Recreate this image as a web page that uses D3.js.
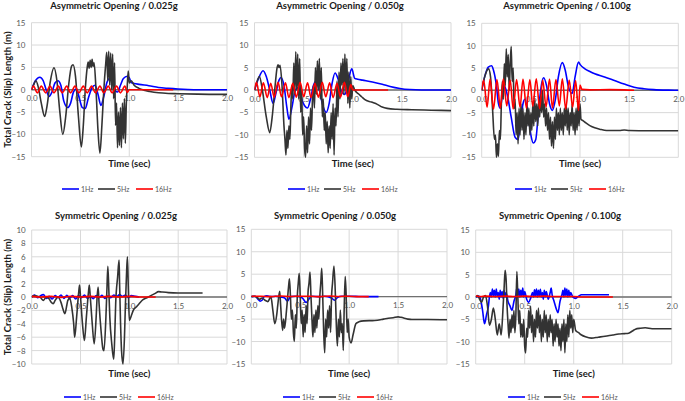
<!DOCTYPE html>
<html>
<head>
<meta charset="utf-8">
<script src="https://cdn.jsdelivr.net/npm/d3@7"></script>
<style>
  body { margin: 0; background: #fff; }
  svg { display: block; font-family: Lato, "Open Sans", sans-serif; }
</style>
</head>
<body>
<div id="chart"></div>
<script>
// series names / colours
var seriesNames = ["1Hz", "5Hz", "16Hz"];
var seriesColors = ["#0000ff", "#333333", "#ff0000"];
var xTicks = [0, 0.5, 1.0, 1.5, 2.0];

// ---- Asymmetric Opening / 0.025g ----
var asym025_1Hz = [[0,0],[0.04,2],[0.085,2.8],[0.12,2],[0.15,0],[0.18,-1.5],[0.21,-0.5],[0.24,1.5],[0.27,2.0],[0.3,1],[0.33,-2.5],[0.37,-4.0],[0.4,-3],[0.43,-0.5],[0.46,0.2],[0.49,-2],[0.52,-4],[0.55,-4.2],[0.58,-2],[0.62,0.5],[0.65,1.0],[0.68,-1],[0.71,-3.5],[0.74,-1.5],[0.77,1.5],[0.8,2.5],[0.83,1.8],[0.86,-0.3],[0.88,-0.5],[0.91,1],[0.94,2.5],[0.98,3.0],[1.0,2.7],[1.02,1.6],[1.05,1.4],[1.1,1.2],[1.2,0.9],[1.3,0.5],[1.4,0.3],[1.5,0.15],[1.6,0.05],[1.7,0],[2.0,0]];
var asym025_5Hz = [[0,0],[0.02,1],[0.045,2],[0.07,0.5],[0.1,-3],[0.135,-6],[0.16,-3.5],[0.19,1.5],[0.23,4.9],[0.26,2],[0.29,-5],[0.32,-10],[0.35,-6],[0.38,1],[0.41,5.3],[0.425,5.6],[0.45,3],[0.48,-6],[0.51,-12.8],[0.53,-8],[0.55,0],[0.57,5],[0.58,6.2],[0.59,4.8],[0.6,6.6],[0.61,5],[0.62,6.8],[0.63,5.2],[0.64,6],[0.66,0],[0.68,-9],[0.7,-14.2],[0.72,-8],[0.74,0],[0.76,6],[0.77,8.4],[0.78,2],[0.79,8.6],[0.8,1],[0.81,8.2],[0.82,0],[0.83,8],[0.84,-2],[0.85,6],[0.86,-8],[0.87,-3],[0.88,-13],[0.89,-5],[0.9,-12.5],[0.91,-4],[0.92,-13],[0.93,-3],[0.94,-11],[0.95,-2],[0.96,-12],[0.97,-3],[0.98,1],[0.99,4.2],[1.0,1.5],[1.02,2],[1.05,1.0],[1.1,0.3],[1.15,-0.1],[1.21,-0.4],[1.3,-0.7],[1.4,-0.85],[1.5,-0.9],[1.7,-1.0],[1.9,-1.05],[2.0,-1.05]];
var asym025_16Hz = [[0,0],[0.02,0.8],[0.06,-0.7],[0.1,0.8],[0.145,-0.7],[0.19,0.8],[0.23,-0.7],[0.275,0.8],[0.315,-0.7],[0.36,0.8],[0.4,-0.7],[0.445,0.8],[0.485,-0.7],[0.53,0.8],[0.57,-0.7],[0.615,0.8],[0.655,-0.7],[0.7,0.8],[0.74,-0.7],[0.785,0.8],[0.825,-0.7],[0.87,0.8],[0.91,-0.7],[0.955,0.8],[0.98,-0.6],[1.0,0],[1.45,0]];

// ---- Asymmetric Opening / 0.050g ----
var asym050_1Hz = [[0,0],[0.04,2.5],[0.087,4.3],[0.12,3],[0.155,0],[0.19,-3],[0.22,-0.5],[0.25,2.2],[0.27,2.8],[0.3,1],[0.33,-4],[0.35,-6.5],[0.38,-4],[0.41,-0.5],[0.44,0.5],[0.47,-1.5],[0.51,-3.5],[0.54,-4],[0.57,-2],[0.6,1],[0.63,2],[0.66,0],[0.69,-3],[0.73,-5],[0.76,-3],[0.79,1.5],[0.82,3.8],[0.85,2.5],[0.88,0],[0.92,-1],[0.95,1.5],[0.99,4.7],[1.02,2.6],[1.05,2.4],[1.1,2.2],[1.2,1.8],[1.3,1.3],[1.38,0.8],[1.48,0.35],[1.58,0.1],[1.7,0],[2.0,0]];
var asym050_5Hz = [[0,0],[0.02,1.5],[0.05,3],[0.08,0],[0.12,-6],[0.155,-9.5],[0.18,-6],[0.21,1],[0.23,5],[0.24,5.6],[0.25,5],[0.26,5.5],[0.28,1],[0.3,-8],[0.31,-11],[0.32,-14.5],[0.33,-9],[0.34,-13],[0.35,-8],[0.36,-11],[0.37,-4],[0.38,1],[0.39,-2],[0.4,6],[0.41,-1],[0.42,8.5],[0.43,0],[0.44,8],[0.45,-2],[0.46,7],[0.47,-5],[0.48,0],[0.49,-10],[0.5,-6],[0.51,-13],[0.52,-15],[0.53,-8],[0.54,-14],[0.55,-6],[0.56,-12],[0.57,-4],[0.58,-9],[0.59,-2],[0.6,1],[0.61,-4],[0.62,5],[0.63,-1],[0.64,6.5],[0.65,0],[0.66,7],[0.67,-2],[0.68,5],[0.69,-6],[0.7,-2],[0.71,-9],[0.72,-5],[0.73,-12],[0.74,-7],[0.75,-14],[0.76,-8],[0.77,-13],[0.78,-5],[0.79,-11],[0.8,-3],[0.81,-14.5],[0.82,-4],[0.83,-8],[0.84,2],[0.85,-6],[0.86,4],[0.87,-2],[0.88,6],[0.89,1],[0.9,7],[0.91,-1],[0.92,8],[0.93,0],[0.94,7],[0.95,-3],[0.96,4],[0.97,-4],[0.98,3],[0.99,-2],[1.0,1],[1.02,0],[1.06,-0.9],[1.09,-1.5],[1.12,-2.1],[1.19,-2.7],[1.25,-3.2],[1.3,-3.8],[1.35,-4.1],[1.45,-4.3],[1.6,-4.4],[1.8,-4.5],[2.0,-4.6]];
var asym050_16Hz = [[0,0],[0.02,1.7],[0.055,-1.5],[0.09,1.6],[0.13,-1.7],[0.165,1.5],[0.2,-1.6],[0.24,1.7],[0.275,-1.5],[0.315,1.6],[0.35,-1.7],[0.39,1.5],[0.425,-1.6],[0.465,1.7],[0.5,-1.5],[0.54,1.6],[0.575,-1.7],[0.615,1.5],[0.65,-1.6],[0.69,1.7],[0.725,-1.5],[0.765,1.6],[0.8,-1.7],[0.84,1.5],[0.875,-1.6],[0.915,1.7],[0.95,-1.5],[0.98,1.2],[1.0,0],[1.36,0]];

// ---- Asymmetric Opening / 0.100g ----
var asym100_1Hz = [[0,0],[0.03,3],[0.067,5.2],[0.1,5.5],[0.12,4.5],[0.15,1],[0.17,-2.9],[0.19,-4],[0.21,-1],[0.23,1],[0.26,-1],[0.3,-6],[0.34,-10.5],[0.37,-11],[0.39,-8],[0.42,-3],[0.44,-2],[0.47,-5],[0.5,-10],[0.525,-11.8],[0.55,-11],[0.58,-4],[0.61,1.5],[0.63,2.8],[0.66,1],[0.69,-3],[0.72,-4.5],[0.75,-2],[0.78,3],[0.82,6.2],[0.85,4.5],[0.88,1],[0.92,-0.7],[0.95,3],[0.985,6.3],[1.0,5.8],[1.05,4.8],[1.1,4.2],[1.15,3.7],[1.25,3.0],[1.35,2.2],[1.45,1.4],[1.55,0.7],[1.65,0.35],[1.75,0.15],[1.9,0.03],[2.0,0]];
var asym100_5Hz = [[0,0],[0.03,3],[0.07,4.8],[0.09,3],[0.11,-4],[0.13,-11],[0.14,-10],[0.15,-15],[0.16,-12],[0.17,-14.8],[0.18,-9],[0.19,-11],[0.2,-3],[0.21,2],[0.22,-2],[0.23,6],[0.24,1],[0.25,9.3],[0.26,3],[0.27,8],[0.28,0],[0.29,6],[0.3,9.8],[0.31,2],[0.32,5],[0.33,-4],[0.34,-2],[0.35,-10],[0.36,-5],[0.37,-12],[0.38,-4],[0.39,-10],[0.4,-3],[0.41,-9],[0.42,-4],[0.43,-11],[0.44,-5],[0.45,-10],[0.46,-3],[0.47,-8],[0.48,-4],[0.49,-10],[0.5,-5],[0.51,-9],[0.52,-3],[0.53,-8],[0.54,-2],[0.55,-7],[0.56,-3],[0.57,-8],[0.58,-2],[0.59,-6],[0.6,-1],[0.61,-5],[0.62,0],[0.63,-6],[0.64,-3],[0.65,-8],[0.66,-4],[0.67,-9],[0.68,-5],[0.69,-11],[0.7,-6],[0.71,-12.5],[0.72,-7],[0.73,-13],[0.74,-6],[0.75,-11],[0.76,-4],[0.77,-9],[0.78,-5],[0.79,-10],[0.8,-4],[0.81,-9],[0.82,-5],[0.83,-10],[0.84,-4],[0.85,-8],[0.86,-3],[0.87,-9],[0.88,-4],[0.89,-10],[0.9,-5],[0.91,-8],[0.92,-3],[0.93,-9],[0.94,-5],[0.95,-10],[0.96,-4],[0.97,-9],[0.98,-3],[0.99,-8],[1.0,-3],[1.01,-6.5],[1.03,-6.8],[1.06,-7.3],[1.1,-7.9],[1.15,-8.4],[1.2,-8.7],[1.27,-9.0],[1.4,-9.0],[1.45,-8.9],[1.5,-9.0],[1.7,-9.05],[2.0,-9.05]];
var asym100_16Hz = [[0,0],[0.02,2.3],[0.055,-3.8],[0.085,2.5],[0.12,-4.2],[0.155,2.4],[0.19,-4],[0.22,2.6],[0.255,-3.5],[0.29,2.3],[0.32,-4.2],[0.355,2.4],[0.39,-3.8],[0.42,2.5],[0.455,-4],[0.49,2.4],[0.52,-3.6],[0.555,2.6],[0.59,-4.1],[0.62,2.3],[0.655,-3.7],[0.69,2.5],[0.72,-4],[0.755,2.4],[0.79,-3.5],[0.82,2.6],[0.855,-4.2],[0.89,2.3],[0.925,-3.8],[0.955,2.2],[0.985,-4.5],[1.0,1.2],[1.02,0.2],[1.1,0.1],[1.3,0.15],[1.45,0.1],[1.55,0]];

// ---- Symmetric Opening / 0.025g ----
var sym025_1Hz = [[0,0],[0.03,0.3],[0.06,-0.1],[0.09,0.2],[0.12,0.35],[0.15,-0.2],[0.18,0.1],[0.21,-0.3],[0.24,0.2],[0.27,-0.1],[0.3,0.3],[0.33,-0.2],[0.36,0.25],[0.39,-0.15],[0.42,0.2],[0.45,-0.3],[0.48,0.2],[0.51,-0.1],[0.54,0.3],[0.57,-0.2],[0.6,0.1],[0.63,-0.25],[0.66,0.2],[0.69,-0.1],[0.72,0.25],[0.75,-0.2],[0.78,0.15],[0.81,-0.1],[0.84,0.3],[0.87,0.1],[0.9,0.35],[0.93,0.1],[0.96,0.3],[0.99,-0.1],[1.02,0.2],[1.06,0.1],[1.1,0]];
var sym025_5Hz = [[0,0],[0.03,0.2],[0.06,0.1],[0.09,-0.1],[0.12,-0.5],[0.15,0],[0.18,-0.3],[0.2,-0.8],[0.22,-1],[0.24,-0.5],[0.27,0],[0.3,-0.8],[0.32,-1.8],[0.34,-2.5],[0.36,-1.2],[0.37,-0.5],[0.39,-0.2],[0.41,-1.5],[0.43,-4],[0.44,-6],[0.46,-3],[0.48,0.5],[0.49,1.8],[0.5,0],[0.52,-4],[0.54,-6.5],[0.56,-3],[0.58,0.5],[0.59,1.8],[0.6,0],[0.62,-4],[0.64,-7],[0.66,-3],[0.67,0],[0.68,1.5],[0.69,-1],[0.71,-5],[0.73,-7.8],[0.74,-8],[0.76,-3],[0.77,1],[0.78,4.6],[0.79,1],[0.8,-3],[0.82,-7],[0.84,-9.3],[0.85,-6],[0.86,-1],[0.88,3],[0.895,5.5],[0.9,2],[0.91,-4],[0.92,-8],[0.935,-10],[0.95,-6],[0.96,-1],[0.97,3],[0.98,6],[0.99,1],[1.0,-3.5],[1.02,-2.8],[1.04,-2],[1.07,-1.5],[1.1,-1],[1.14,-0.4],[1.18,-0.1],[1.22,0.2],[1.26,0.5],[1.3,0.8],[1.33,0.75],[1.4,0.65],[1.5,0.6],[1.6,0.6],[1.75,0.6]];
var sym025_16Hz = [[0,0.1],[0.1,0],[0.2,0.1],[0.3,-0.05],[0.4,0.1],[0.5,0],[0.6,0.1],[0.7,0],[0.8,0.1],[0.9,0],[1.0,0.1],[1.1,0],[1.27,0]];

// ---- Symmetric Opening / 0.050g ----
var sym050_1Hz = [[0,0],[0.04,0.1],[0.07,-0.6],[0.09,-1.0],[0.11,-0.8],[0.13,0],[0.16,0.2],[0.2,0],[0.25,0.1],[0.3,-0.1],[0.34,-0.3],[0.37,-1.0],[0.4,0],[0.45,0.1],[0.5,0],[0.53,-0.5],[0.56,-1.3],[0.59,-0.5],[0.62,0.1],[0.7,0],[0.75,0.1],[0.82,-0.3],[0.85,-0.8],[0.88,-0.2],[0.92,0.1],[1.0,0.1],[1.1,0.05],[1.2,0],[1.3,0]];
var sym050_5Hz = [[0,0],[0.03,0.1],[0.06,-0.2],[0.085,-0.6],[0.11,-0.3],[0.14,-0.8],[0.17,-1.1],[0.19,-0.3],[0.2,0],[0.22,-3],[0.24,-6],[0.26,-4],[0.27,-2],[0.29,1.2],[0.3,-2],[0.32,-7.5],[0.33,-5],[0.34,-7],[0.36,-3],[0.38,2],[0.39,4],[0.4,0],[0.41,-5],[0.42,-3],[0.43,-8],[0.44,-10],[0.45,-4],[0.46,-7],[0.47,0],[0.48,3],[0.49,5.2],[0.5,0],[0.51,-6],[0.52,-3],[0.53,-9],[0.54,-4],[0.55,-8],[0.56,-2],[0.57,-6],[0.58,1],[0.59,3],[0.6,5.5],[0.61,0],[0.62,-5],[0.63,-9],[0.64,-4],[0.65,-8],[0.66,-3],[0.67,-7],[0.68,-2],[0.69,-5],[0.7,0],[0.71,3],[0.72,6.3],[0.73,0],[0.74,-8],[0.75,-12.5],[0.76,-5],[0.77,-9],[0.78,-3],[0.79,-7],[0.8,-2],[0.81,-8],[0.82,0],[0.83,3],[0.845,6.8],[0.86,0],[0.87,-7],[0.88,-11],[0.89,-5],[0.9,-9],[0.91,-3],[0.92,-8],[0.93,-6],[0.94,-12],[0.95,-2],[0.96,4.5],[0.97,0],[0.98,-8],[0.99,-5],[1.0,-9],[1.02,-10.3],[1.04,-8.5],[1.07,-6],[1.1,-5.6],[1.15,-5.4],[1.26,-5.3],[1.35,-5.0],[1.4,-4.8],[1.45,-4.7],[1.5,-4.5],[1.53,-4.6],[1.6,-5.0],[1.64,-5.1],[1.8,-5.1],[2.0,-5.15]];
var sym050_16Hz = [[0,0.1],[0.1,0.1],[0.2,0],[0.3,0.15],[0.4,0.05],[0.5,0.1],[0.6,0.1],[0.7,0],[0.8,0.15],[0.9,0.05],[1.0,0.1],[1.1,0],[1.2,0]];

// ---- Symmetric Opening / 0.100g ----
var sym100_1Hz = [[0,0],[0.03,0.2],[0.05,-0.5],[0.07,-3],[0.09,-6],[0.11,-4],[0.13,-2],[0.14,0],[0.15,1],[0.16,0],[0.17,1.8],[0.18,0.3],[0.19,1.5],[0.2,0],[0.21,1.8],[0.22,0.2],[0.23,1],[0.24,-0.5],[0.25,1.5],[0.26,0],[0.27,1.2],[0.28,-0.3],[0.29,1.5],[0.3,0],[0.31,1],[0.33,-1],[0.35,-2],[0.37,-3],[0.39,-1],[0.41,0.5],[0.42,2],[0.43,0.3],[0.44,1.8],[0.45,0],[0.46,1.5],[0.47,0.2],[0.48,2],[0.49,0],[0.5,1.2],[0.52,-0.5],[0.54,-1.2],[0.56,-0.3],[0.58,1],[0.59,0],[0.6,1.6],[0.61,0.2],[0.62,1.8],[0.63,0],[0.64,1.5],[0.65,0.2],[0.66,1.7],[0.67,0],[0.68,1],[0.69,-0.5],[0.7,1.5],[0.71,0],[0.72,1.2],[0.74,-0.5],[0.76,1],[0.77,2],[0.78,0.5],[0.8,-1],[0.82,-2.5],[0.84,-3.5],[0.86,-1],[0.88,0.5],[0.89,1.5],[0.9,0],[0.91,2],[0.92,0.3],[0.93,1.8],[0.94,0],[0.95,1.5],[0.96,0.2],[0.97,1],[0.99,0],[1.02,-0.3],[1.05,0.2],[1.08,0.5],[1.2,0.5],[1.36,0.5]];
var sym100_5Hz = [[0,0],[0.02,0.3],[0.04,-0.5],[0.06,-1.2],[0.08,0],[0.1,0.3],[0.12,-2],[0.14,-6.3],[0.16,-5],[0.18,-2.5],[0.2,-5],[0.22,-8.5],[0.24,-6],[0.26,-8.5],[0.28,-2],[0.29,2],[0.3,6],[0.31,4],[0.32,-2],[0.33,-6],[0.34,-9.2],[0.35,-5],[0.36,-8],[0.37,-4],[0.38,-7],[0.39,-3],[0.4,-8],[0.41,-4],[0.42,5.7],[0.43,0],[0.44,-6],[0.45,-3],[0.46,-9],[0.47,-6],[0.48,-9],[0.49,-5],[0.5,-11],[0.51,-12.5],[0.52,-7],[0.53,-9],[0.54,-3],[0.55,-7],[0.56,-2],[0.57,-8],[0.58,-4],[0.59,-10],[0.6,-5],[0.61,-9],[0.62,-3],[0.63,-7],[0.64,-2.5],[0.65,-8],[0.66,-4],[0.67,-10],[0.68,-5],[0.69,-9],[0.7,-3],[0.71,-8],[0.72,-4],[0.73,-10],[0.74,-5],[0.75,-9],[0.76,-4],[0.77,-8],[0.78,-5],[0.79,-11],[0.8,-6],[0.81,-10],[0.82,-5],[0.83,-9],[0.84,-6],[0.85,-11],[0.86,-7],[0.87,-12],[0.88,-6],[0.89,-10],[0.9,-5],[0.91,-12.5],[0.92,-6],[0.93,-10],[0.94,-4],[0.95,-9],[0.96,-3],[0.97,-7],[0.98,-4],[0.99,-8],[1.0,-5],[1.02,-7.5],[1.05,-8],[1.08,-8.5],[1.12,-8.9],[1.18,-9.2],[1.25,-9.0],[1.32,-8.8],[1.4,-8.5],[1.46,-8.3],[1.52,-8.2],[1.56,-8.1],[1.6,-7.6],[1.63,-7.2],[1.68,-7.0],[1.73,-6.9],[1.8,-7.1],[1.9,-7.1],[2.0,-7.1]];
var sym100_16Hz = [[0,0.3],[0.05,0.1],[0.1,0.2],[0.2,0.1],[0.3,0.2],[0.4,0.1],[0.5,0.2],[0.6,0.1],[0.7,0.2],[0.8,0.1],[0.9,0.1],[1.0,0.1],[1.1,0],[1.4,0]];

var titles = [
  "Asymmetric Opening / 0.025g", "Asymmetric Opening / 0.050g", "Asymmetric Opening / 0.100g",
  "Symmetric Opening / 0.025g", "Symmetric Opening / 0.050g", "Symmetric Opening / 0.100g"
];
var yTicksTop = [-15, -10, -5, 0, 5, 10, 15];
var yTicksSym025 = [-10, -8, -6, -4, -2, 0, 2, 4, 6, 8, 10];

// panel layout (pixels)
var panels = [
  {series: [asym025_1Hz, asym025_5Hz, asym025_16Hz], yTicks: yTicksTop, x0: 31.5, x1: 227, top: 22.7, bottom: 156.7, cx: 114, titleY: 9, timeY: 167, legY: 189, yTitle: true},
  {series: [asym050_1Hz, asym050_5Hz, asym050_16Hz], yTicks: yTicksTop, x0: 254.5, x1: 451, top: 22.7, bottom: 157.3, cx: 340, titleY: 9, timeY: 167, legY: 189},
  {series: [asym100_1Hz, asym100_5Hz, asym100_16Hz], yTicks: yTicksTop, x0: 481.7, x1: 678.3, top: 23.3, bottom: 157.3, cx: 567, titleY: 9, timeY: 167, legY: 189},
  {series: [sym025_1Hz, sym025_5Hz, sym025_16Hz], yTicks: yTicksSym025, x0: 31.7, x1: 227, top: 230, bottom: 364, cx: 116, titleY: 218.5, timeY: 376.5, legY: 397, yTitle: true},
  {series: [sym050_1Hz, sym050_5Hz, sym050_16Hz], yTicks: yTicksTop, x0: 251.3, x1: 447, top: 229.3, bottom: 364, cx: 335, titleY: 218.5, timeY: 376.5, legY: 397},
  {series: [sym100_1Hz, sym100_5Hz, sym100_16Hz], yTicks: yTicksTop, x0: 475.7, x1: 671.7, top: 230, bottom: 364, cx: 560, titleY: 218.5, timeY: 376.5, legY: 397}
];

var svg = d3.select("#chart").append("svg")
    .attr("width", 685)
    .attr("height", 401);

panels.forEach(function(p, i) {
  var x = d3.scaleLinear().domain([0, 2]).range([p.x0, p.x1]);
  var y = d3.scaleLinear().domain(d3.extent(p.yTicks)).range([p.bottom, p.top]);
  var g = svg.append("g");

  // gridlines
  g.selectAll(".hgrid").data(p.yTicks).enter().append("line")
      .attr("x1", p.x0).attr("x2", p.x1)
      .attr("y1", function(d) { return y(d); }).attr("y2", function(d) { return y(d); })
      .attr("stroke", "#d9d9d9").attr("stroke-width", 1);
  g.selectAll(".vgrid").data(xTicks).enter().append("line")
      .attr("y1", p.top).attr("y2", p.bottom)
      .attr("x1", function(d) { return x(d); }).attr("x2", function(d) { return x(d); })
      .attr("stroke", "#d9d9d9").attr("stroke-width", 1);

  // zero axis line
  g.append("line")
      .attr("x1", p.x0).attr("x2", p.x1)
      .attr("y1", y(0)).attr("y2", y(0))
      .attr("stroke", "#707070").attr("stroke-width", 1.4);

  // y axis labels
  var ya = g.append("g")
      .attr("transform", "translate(" + p.x0 + ",0)")
      .call(d3.axisLeft(y).tickValues(p.yTicks).tickSize(0).tickPadding(6));
  ya.select(".domain").remove();
  ya.selectAll("text").attr("fill", "#595959").style("font-size", "8px").style("font-family", "Lato, sans-serif");

  // x axis labels (sit on the zero line)
  var xa = g.append("g")
      .attr("transform", "translate(0," + y(0) + ")")
      .call(d3.axisBottom(x).tickValues(xTicks).tickFormat(d3.format(".1f")).tickSize(0).tickPadding(6));
  xa.select(".domain").remove();
  xa.selectAll("text").attr("fill", "#595959").style("font-size", "8px").style("font-family", "Lato, sans-serif");

  // clip + lines
  svg.append("clipPath").attr("id", "clip" + i).append("rect")
      .attr("x", p.x0).attr("y", p.top - 1)
      .attr("width", p.x1 - p.x0).attr("height", p.bottom - p.top + 2);

  var line = d3.line()
      .x(function(d) { return x(d[0]); })
      .y(function(d) { return y(d[1]); })
      .curve(d3.curveMonotoneX);

  p.series.forEach(function(s, k) {
    g.append("path")
      .datum(s)
      .attr("clip-path", "url(#clip" + i + ")")
      .attr("fill", "none")
      .attr("stroke", seriesColors[k])
      .attr("stroke-width", 1.6)
      .attr("stroke-linejoin", "round")
      .attr("d", line);
  });

  // title
  g.append("text")
      .attr("x", p.cx).attr("y", p.titleY)
      .attr("text-anchor", "middle")
      .style("font-size", "9.5px").style("font-weight", "bold")
      .attr("fill", "#1a1a1a")
      .text(titles[i]);

  // x title
  g.append("text")
      .attr("x", (p.x0 + p.x1) / 2).attr("y", p.timeY)
      .attr("text-anchor", "middle")
      .style("font-size", "9.5px").style("font-weight", "bold")
      .attr("fill", "#1a1a1a")
      .text("Time (sec)");

  // y title
  if (p.yTitle) {
    g.append("text")
        .attr("transform", "translate(11," + (p.top + p.bottom) / 2 + ") rotate(-90)")
        .attr("text-anchor", "middle")
        .style("font-size", "9.5px").style("font-weight", "bold")
        .attr("fill", "#1a1a1a")
        .text("Total Crack (Slip) Length (m)");
  }

  // legend
  var legOffsets = [-52, -16, 22];
  seriesNames.forEach(function(name, k) {
    var lx = p.cx + legOffsets[k];
    g.append("line")
        .attr("x1", lx).attr("x2", lx + 17)
        .attr("y1", p.legY).attr("y2", p.legY)
        .attr("stroke", seriesColors[k]).attr("stroke-width", 1.6);
    g.append("text")
        .attr("x", lx + 19).attr("y", p.legY + 2.5)
        .style("font-size", "7px")
        .attr("fill", "#595959")
        .text(name);
  });
});
</script>
</body>
</html>
